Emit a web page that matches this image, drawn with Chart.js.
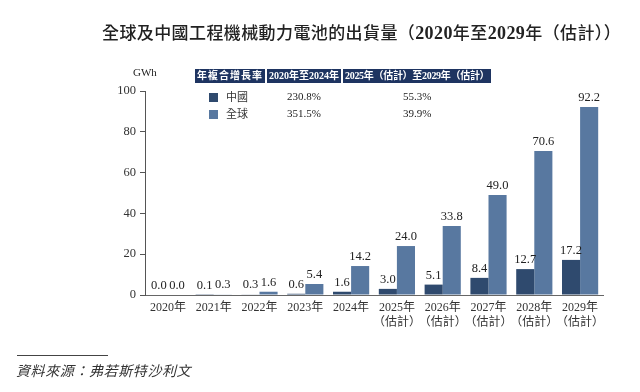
<!DOCTYPE html>
<html><head><meta charset="utf-8">
<script src="https://cdn.jsdelivr.net/npm/chart.js@4"></script>
<style>
html,body{margin:0;padding:0;background:#fff;width:640px;height:392px;overflow:hidden;}
#wrap{position:relative;width:640px;height:392px;}
#c{position:absolute;left:0;top:0;}
.title{position:absolute;left:102px;top:19px;font-family:'Noto Sans CJK TC',sans-serif;font-size:17px;font-weight:500;color:#222;white-space:nowrap;letter-spacing:0.4px}
.title b{font-family:'Liberation Serif',serif;font-weight:bold;font-size:18px}
.unit{position:absolute;left:133px;top:66px;font-family:'Liberation Serif',serif;font-size:11px;color:#222}
table.cagr{position:absolute;left:193px;top:69px;border-collapse:separate;border-spacing:2px 0;font-size:11px;color:#222}
table.cagr th{background:#1e3461;color:#fff;font-family:'Liberation Serif','Noto Sans CJK TC',serif;font-weight:bold;font-size:10px;height:14px;padding:0 2px;line-height:14px;white-space:nowrap}
table.cagr th.h1{width:63px;letter-spacing:1px}
table.cagr th.h2{width:69px}
table.cagr th.h3{width:143px;letter-spacing:-0.3px}
table.cagr td{font-family:'Liberation Serif','Noto Sans CJK TC',serif;height:17px;line-height:17px;text-align:center;white-space:nowrap;padding:0}
table.cagr tr.sp td{height:5px;line-height:5px}
table.cagr td.lg{text-align:left;padding-left:14px;font-family:'Noto Sans CJK TC',sans-serif;font-size:11px;color:#333}
.sq{display:inline-block;width:9px;height:9px;margin-right:8px;vertical-align:-1px}
.srcline{position:absolute;left:17px;top:355px;width:91px;height:1px;background:#444}
.src{position:absolute;left:16px;top:360px;font-family:'Noto Sans CJK TC',sans-serif;font-style:italic;font-size:14px;color:#333;letter-spacing:0.6px}
</style></head>
<body><div id="wrap">
<canvas id="c" width="640" height="392"></canvas>
<div class="title">全球及中國工程機械動力電池的出貨量（<b>2020</b>年至<b>2029</b>年（估計））</div>
<div class="unit">GWh</div>
<table class="cagr">
<tr><th class="h1">年複合增長率</th><th class="h2">2020年至2024年</th><th class="h3">2025年（估計）至2029年（估計）</th></tr>
<tr class="sp"><td></td><td></td><td></td></tr>
<tr><td class="lg"><span class="sq" style="background:#2f4a6e"></span>中國</td><td>230.8%</td><td>55.3%</td></tr>
<tr><td class="lg"><span class="sq" style="background:#5878a0"></span>全球</td><td>351.5%</td><td>39.9%</td></tr>
</table>
<div class="srcline"></div>
<div class="src">資料來源：弗若斯特沙利文</div>
</div>
<script>
const categories = [["2020年"],["2021年"],["2022年"],["2023年"],["2024年"],["2025年","（估計）"],["2026年","（估計）"],["2027年","（估計）"],["2028年","（估計）"],["2029年","（估計）"]];
const chinaValues = [0.0,0.1,0.3,0.6,1.6,3.0,5.1,8.4,12.7,17.2];
const globalValues = [0.0,0.3,1.6,5.4,14.2,24.0,33.8,49.0,70.6,92.2];
const seriesNames = ["中國","全球"];
const yTicks = [0,20,40,60,80,100];

const valueLabels = {
  id:'valueLabels',
  afterDatasetsDraw(chart){
    const ctx = chart.ctx;
    ctx.save();
    ctx.font = "12.5px 'Liberation Serif', serif";
    ctx.fillStyle = '#222';
    ctx.textAlign = 'center';
    ctx.textBaseline = 'bottom';
    chart.data.datasets.forEach((ds,i)=>{
      chart.getDatasetMeta(i).data.forEach((bar,j)=>{
        ctx.fillText(ds.data[j].toFixed(1), bar.x, bar.y - 3);
      });
    });
    ctx.restore();
  }
};

new Chart(document.getElementById('c'), {
  type:'bar',
  data:{
    labels: categories,
    datasets:[
      {label:seriesNames[0], data:chinaValues, backgroundColor:'#2f4a6e'},
      {label:seriesNames[1], data:globalValues, backgroundColor:'#5878a0'}
    ]
  },
  options:{
    responsive:false,
    animation:false,
    layout:{padding:{left:0,right:37,top:91,bottom:50}},
    categoryPercentage:0.79,
    barPercentage:1.0,
    plugins:{legend:{display:false},tooltip:{enabled:false}},
    scales:{
      x:{
        grid:{display:false,drawTicks:false},
        border:{display:true,color:'#666',width:1},
        ticks:{color:'#333',font:{family:"'Liberation Serif','Noto Sans CJK TC',serif",size:12},padding:6,maxRotation:0,autoSkip:false},
        afterFit(s){s.height=47;}
      },
      y:{
        min:0,max:100,
        afterBuildTicks(s){s.ticks = yTicks.map(v=>({value:v}));},
        grid:{display:true,drawOnChartArea:false,tickLength:5,color:'#555'},
        border:{display:true,color:'#555',width:1},
        ticks:{color:'#333',font:{family:"'Liberation Serif',serif",size:12.5},padding:4},
        afterFit(s){s.width=145;}
      }
    }
  },
  plugins:[valueLabels]
});
</script>
</body></html>
